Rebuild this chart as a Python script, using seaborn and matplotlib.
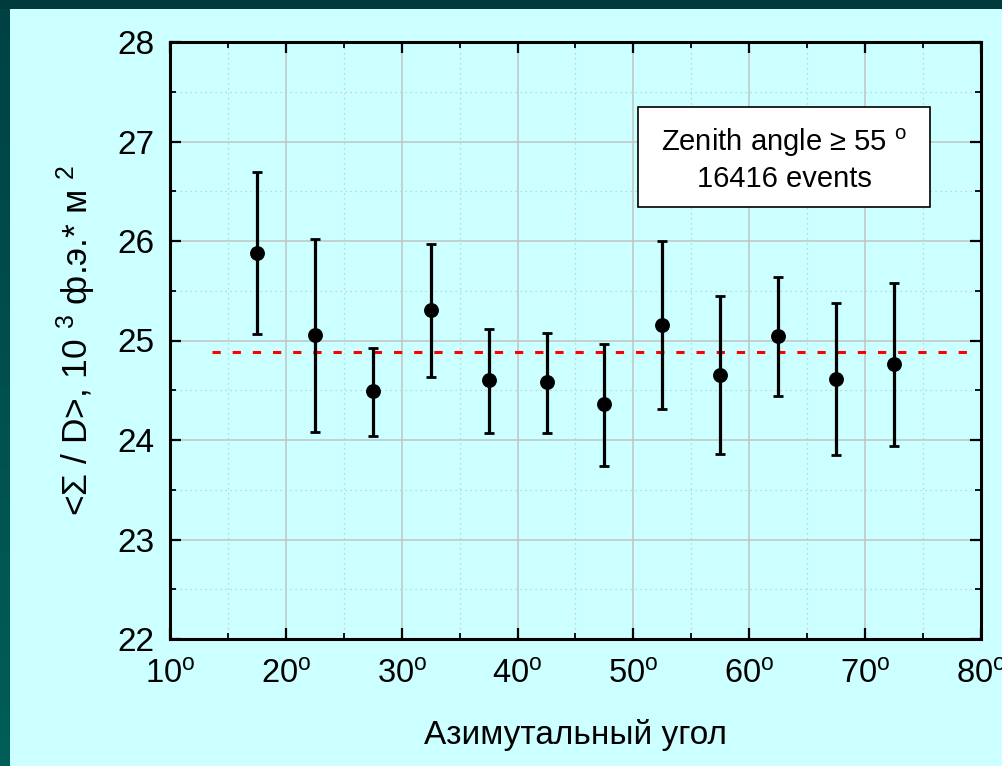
import numpy as np
import pandas as pd
import matplotlib
matplotlib.use("Agg")
import matplotlib.pyplot as plt
from matplotlib.ticker import MultipleLocator, FuncFormatter
from matplotlib.patches import Rectangle
from matplotlib.colors import LinearSegmentedColormap
import seaborn as sns

# ---- data ----
azimuth = [17.5, 22.5, 27.5, 32.5, 37.5, 42.5, 47.5, 52.5, 57.5, 62.5, 67.5, 72.5]
sigma_d = [25.88, 25.06, 24.49, 25.31, 24.60, 24.58, 24.36, 25.16, 24.65, 25.05, 24.61, 24.76]
err_top = [26.69, 26.02, 24.92, 25.97, 25.12, 25.08, 24.96, 26.00, 25.45, 25.64, 25.38, 25.58]
err_bot = [25.07, 24.08, 24.04, 24.63, 24.07, 24.07, 23.74, 24.31, 23.86, 24.44, 23.85, 23.94]
mean_level = 24.88
mean_x_start, mean_x_end = 13.6, 79.5
x_limits = (10, 80)
y_limits = (22, 28)
box_lines = ["Zenith angle \u2265 55 $^{\\mathrm{o}}$", "16416 events"]
x_label = "Азимутальный угол"
y_label = "<Σ / D>, 10 $^{3}$ ф.э.* м $^{2}$"

df = pd.DataFrame({"az": azimuth, "val": sigma_d, "top": err_top, "bot": err_bot})

sns.set_theme(style="white")
plt.rcParams["font.family"] = ["Liberation Sans", "DejaVu Sans"]
plt.rcParams["mathtext.fontset"] = "custom"
plt.rcParams["mathtext.rm"] = "Liberation Sans"
plt.rcParams["mathtext.it"] = "Liberation Sans:italic"
plt.rcParams["mathtext.bf"] = "Liberation Sans:bold"
for key in ["text.color", "axes.labelcolor", "xtick.color", "ytick.color"]:
    plt.rcParams[key] = "black"

BG = "#CCFFFF"
W, H = 1003, 766
fig = plt.figure(figsize=(W / 100, H / 100), dpi=100, facecolor=BG)

# dark frame (top band + left gradient band)
top_ax = fig.add_axes([0, 1 - 9 / H, 1, 9 / H])
top_ax.set_axis_off()
top_ax.add_patch(Rectangle((0, 0), 1, 1, color="#003A3C", transform=top_ax.transAxes))
left_ax = fig.add_axes([0, 0, 10 / W, 1 - 9 / H])
left_ax.set_axis_off()
grad = np.linspace(0, 1, 256).reshape(-1, 1)
cmap = LinearSegmentedColormap.from_list("frame", ["#005E58", "#004244"])
left_ax.imshow(grad, aspect="auto", cmap=cmap, origin="lower", extent=[0, 1, 0, 1])

ax = fig.add_axes([170 / W, 1 - 639 / H, 811 / W, 597 / H])
ax.set_facecolor(BG)

# grid
ax.xaxis.set_major_locator(MultipleLocator(10))
ax.xaxis.set_minor_locator(MultipleLocator(5))
ax.yaxis.set_major_locator(MultipleLocator(1))
ax.yaxis.set_minor_locator(MultipleLocator(0.5))
ax.grid(True, which="major", color="#C0C4C4", linewidth=1.1, linestyle="-")
ax.grid(True, which="minor", color="#C0C8C8", linewidth=0.9, linestyle=(0, (1, 3)))
ax.set_axisbelow(True)

# mean line
ax.hlines(mean_level, mean_x_start, mean_x_end, colors="#FF0000",
          linestyles=(0, (2.7, 3.9)), linewidth=2.2, zorder=2)

# error bars
yerr = np.array([df["val"] - df["bot"], df["top"] - df["val"]])
ax.errorbar(df["az"], df["val"], yerr=yerr, fmt="none", ecolor="black",
            elinewidth=2.3, capsize=3.6, capthick=2.0, zorder=3)
sns.scatterplot(data=df, x="az", y="val", ax=ax, color="black", s=115,
                edgecolor="black", linewidth=0, zorder=4, legend=False)

ax.set_xlim(*x_limits)
ax.set_ylim(*y_limits)

for s in ax.spines.values():
    s.set_color("black")
    s.set_linewidth(2.2)
    s.set_visible(True)

ax.tick_params(which="both", direction="in", top=True, right=True, bottom=True, left=True, color="black")
ax.tick_params(which="major", length=8, width=1.6)
ax.tick_params(which="minor", length=4, width=1.3)
ax.tick_params(axis="y", which="major", labelsize=24, pad=11)
ax.tick_params(axis="x", which="major", labelsize=23.5, pad=15)

ax.xaxis.set_major_formatter(FuncFormatter(lambda v, p: f"{v:g}$^{{\\mathrm{{o}}}}$"))
ax.yaxis.set_major_formatter(FuncFormatter(lambda v, p: f"{v:g}"))

ax.set_xlabel(x_label, fontsize=24, labelpad=20)
ax.set_ylabel(y_label, fontsize=25.5, labelpad=14)

# annotation box
bx0, bx1, by0, by1 = 638, 930, 107, 207
ax.add_patch(Rectangle(((bx0 - 170) / 811, (639 - by1) / 597), (bx1 - bx0) / 811, (by1 - by0) / 597,
                       transform=ax.transAxes, facecolor="white", edgecolor="black", linewidth=1.2, zorder=5))
cx = ((bx0 + bx1) / 2 - 170) / 811
ax.text(cx, (639 - 143) / 597, box_lines[0], transform=ax.transAxes, ha="center", va="center",
        fontsize=21, zorder=6)
ax.text(cx, (639 - 179) / 597, box_lines[1], transform=ax.transAxes, ha="center", va="center",
        fontsize=21, zorder=6)

fig.savefig("out.png", dpi=100, facecolor=BG)
